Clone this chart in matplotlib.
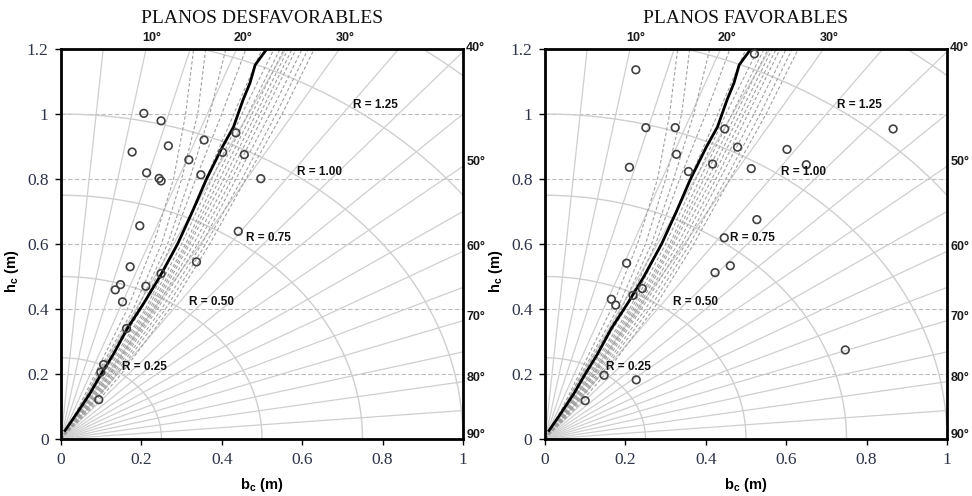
import numpy as np
import matplotlib
matplotlib.use("Agg")
import matplotlib.pyplot as plt

plt.rcParams['mathtext.fontset'] = 'custom'
plt.rcParams['mathtext.bf'] = 'Liberation Sans:bold'
plt.rcParams['mathtext.rm'] = 'Liberation Sans'

# ---------------- data ----------------
titles = ["PLANOS DESFAVORABLES", "PLANOS FAVORABLES"]

# solid black reference curve (b_c, h_c)
curve_x = [0.01, 0.04, 0.072, 0.1, 0.13, 0.165, 0.207, 0.246, 0.29, 0.327, 0.362, 0.402, 0.429, 0.453, 0.47, 0.483, 0.512]
curve_y = [0.026, 0.08, 0.14, 0.2, 0.26, 0.34, 0.42, 0.5, 0.6, 0.7, 0.8, 0.9, 0.96, 1.044, 1.095, 1.151, 1.2]

# dashed grey family of curves: x values at these heights
dash_y = [0.0, 0.1, 0.2, 0.4, 0.6, 0.8, 1.0, 1.2]
dash_x = [
    [0, 0.045, 0.085, 0.165, 0.23, 0.28, 0.31, 0.33],
    [0, 0.050, 0.090, 0.180, 0.25, 0.30, 0.34, 0.36],
    [0, 0.052, 0.095, 0.190, 0.265, 0.32, 0.37, 0.41],
    [0, 0.055, 0.100, 0.200, 0.275, 0.335, 0.40, 0.46],
    [0, 0.058, 0.105, 0.210, 0.29, 0.36, 0.43, 0.50],
    [0, 0.060, 0.110, 0.215, 0.30, 0.375, 0.45, 0.53],
    [0, 0.062, 0.115, 0.220, 0.31, 0.385, 0.465, 0.545],
    [0, 0.064, 0.120, 0.225, 0.315, 0.395, 0.475, 0.555],
    [0, 0.066, 0.122, 0.230, 0.32, 0.405, 0.485, 0.565],
    [0, 0.068, 0.125, 0.235, 0.33, 0.415, 0.495, 0.575],
    [0, 0.070, 0.130, 0.240, 0.34, 0.425, 0.505, 0.585],
    [0, 0.072, 0.135, 0.250, 0.35, 0.435, 0.52, 0.60],
    [0, 0.075, 0.140, 0.260, 0.36, 0.45, 0.535, 0.615],
    [0, 0.080, 0.150, 0.270, 0.37, 0.46, 0.55, 0.63],
]

# observed points
desf_b = [0.206, 0.249, 0.435, 0.356, 0.267, 0.177, 0.402, 0.456, 0.318, 0.213, 0.348, 0.244, 0.249, 0.497,
          0.196, 0.441, 0.337, 0.172, 0.249, 0.148, 0.135, 0.211, 0.153, 0.163, 0.106, 0.099, 0.094]
desf_h = [1.002, 0.979, 0.942, 0.920, 0.902, 0.883, 0.882, 0.875, 0.859, 0.819, 0.813, 0.802, 0.794, 0.801,
          0.656, 0.639, 0.545, 0.530, 0.509, 0.475, 0.459, 0.470, 0.422, 0.340, 0.229, 0.206, 0.121]
fav_b = [0.521, 0.226, 0.251, 0.324, 0.447, 0.866, 0.479, 0.602, 0.327, 0.650, 0.417, 0.210, 0.513, 0.357,
         0.527, 0.446, 0.203, 0.461, 0.423, 0.242, 0.165, 0.219, 0.176, 0.747, 0.147, 0.227, 0.100]
fav_h = [1.185, 1.136, 0.958, 0.958, 0.954, 0.954, 0.898, 0.891, 0.876, 0.844, 0.846, 0.836, 0.832, 0.823,
         0.675, 0.619, 0.541, 0.533, 0.512, 0.463, 0.430, 0.442, 0.412, 0.274, 0.196, 0.182, 0.118]
points = [(desf_b, desf_h), (fav_b, fav_h)]

# polar grid
radii = [0.25, 0.5, 0.75, 1.0, 1.25, 1.5]
angles = [5, 10, 15, 20, 25, 30, 35, 40, 45, 50, 55, 60, 65, 70, 75, 80, 85, 90]
top_angle_labels = [10, 20, 30]
right_angle_labels = [40, 50, 60, 70, 80, 90]
r_labels = ["R = 0.25", "R = 0.50", "R = 0.75", "R = 1.00", "R = 1.25"]
r_label_x = [0.152, 0.318, 0.46, 0.587, 0.727]
r_label_y = [0.222, 0.421, 0.619, 0.823, 1.029]

xticks = [0, 0.2, 0.4, 0.6, 0.8, 1]
yticks = [0, 0.2, 0.4, 0.6, 0.8, 1, 1.2]

# ---------------- figure ----------------
fig = plt.figure(figsize=(9.72, 4.96), dpi=100)
lefts = [61 / 972, 545 / 972]
grid_c = '#cfcfcf'
tick_c = '#2e3448'

for i, left in enumerate(lefts):
    ax = fig.add_axes([left, 57 / 496, 402 / 972, 390 / 496])
    ax.set_xlim(0, 1)
    ax.set_ylim(0, 1.2)

    # horizontal dashed grid
    for yv in yticks[1:-1]:
        ax.axhline(yv, color='#bdbdbd', lw=0.8, ls=(0, (4, 2)), zorder=1)

    # radial lines
    t = np.array([0.0, 3.0])
    for a in angles:
        r = np.deg2rad(a)
        ax.plot(t * np.sin(r), t * np.cos(r), color=grid_c, lw=0.9, zorder=1)
    # arcs
    th = np.linspace(0, np.pi / 2, 300)
    for R in radii:
        ax.plot(R * np.sin(th), R * np.cos(th), color=grid_c, lw=1.0, zorder=1)

    # dashed family
    for xs in dash_x:
        ax.plot(xs, dash_y, color='#a0a0a0', lw=0.8, ls=(0, (3, 2)), zorder=2)

    # main curve
    ax.plot(curve_x, curve_y, color='black', lw=2.0, zorder=4)

    # points
    bx, hy = points[i]
    ax.scatter(bx, hy, s=30, facecolors='none', edgecolors='#404040', linewidths=1.2, zorder=5)

    # R labels
    for lab, xx, yy in zip(r_labels, r_label_x, r_label_y):
        ax.text(xx, yy, lab, fontsize=8.5, fontweight='bold', family='Liberation Sans',
                va='center', ha='left', color='#111111', zorder=6)

    # angle labels
    for a in top_angle_labels:
        xx = 1.2 * np.tan(np.deg2rad(a))
        ax.text(xx + 0.015, 1.215, f"{a}°", fontsize=9, fontweight='bold', family='Liberation Sans',
                ha='center', va='bottom', color='#1a1a1a', clip_on=False)
    for a in right_angle_labels:
        yy = 1.0 / np.tan(np.deg2rad(a)) if a < 90 else 0.0
        yy = min(yy, 1.2)
        ax.text(1.008, yy + 0.012, f"{a}°", fontsize=9, fontweight='bold', family='Liberation Sans',
                ha='left', va='center', color='#1a1a1a', clip_on=False)

    ax.set_xticks(xticks)
    ax.set_yticks(yticks)
    ax.set_xticklabels([f"{v:g}" for v in xticks])
    ax.set_yticklabels([f"{v:g}" for v in yticks])
    for lab in ax.get_xticklabels() + ax.get_yticklabels():
        lab.set_fontfamily('Liberation Serif')
        lab.set_fontsize(12.5)
        lab.set_color(tick_c)
    ax.tick_params(direction='out', length=4, width=1, color='black', pad=5)
    for sp in ax.spines.values():
        sp.set_linewidth(2)
        sp.set_color('black')

    ax.set_xlabel(r'$\mathbf{b_c}$ (m)', fontsize=10.5, fontweight='bold',
                  family='Liberation Sans', labelpad=6)
    ax.set_ylabel(r'$\mathbf{h_c}$ (m)', fontsize=10.5, fontweight='bold',
                  family='Liberation Sans', labelpad=8)
    ax.yaxis.set_label_coords(-0.1, 0.43)
    ax.set_title(titles[i], fontsize=14, family='Liberation Serif', pad=19, color='#111111')

fig.savefig('out.png', dpi=100)
